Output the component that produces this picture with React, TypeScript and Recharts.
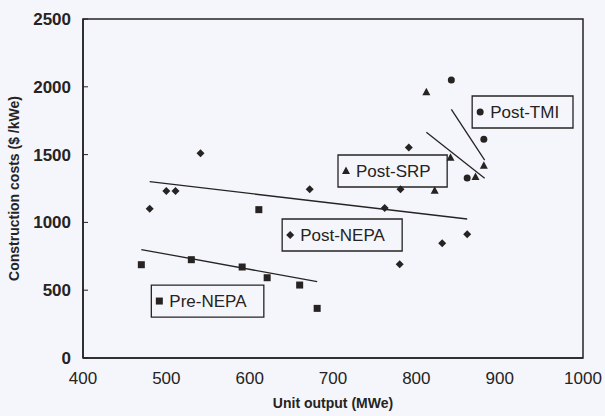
import {
  ScatterChart,
  Scatter,
  XAxis,
  YAxis,
  ReferenceLine,
  ReferenceArea,
} from 'recharts';

// unit output (MWe) vs construction cost ($/kWe)
const preNepa = [
  { x: 470, y: 688 },
  { x: 530, y: 725 },
  { x: 591, y: 671 },
  { x: 611, y: 1094 },
  { x: 621, y: 592 },
  { x: 660, y: 538 },
  { x: 681, y: 366 },
];

const postNepa = [
  { x: 480, y: 1101 },
  { x: 500, y: 1231 },
  { x: 511, y: 1231 },
  { x: 541, y: 1510 },
  { x: 672, y: 1244 },
  { x: 762, y: 1106 },
  { x: 780, y: 691 },
  { x: 781, y: 1244 },
  { x: 791, y: 1553 },
  { x: 831, y: 846 },
  { x: 861, y: 912 },
];

const postSrp = [
  { x: 812, y: 1959 },
  { x: 822, y: 1234 },
  { x: 841, y: 1477 },
  { x: 871, y: 1335 },
  { x: 881, y: 1418 },
];

const postTmi = [
  { x: 842, y: 2050 },
  { x: 861, y: 1327 },
  { x: 881, y: 1613 },
];

// fitted trend segments (end points)
const preNepaFit = [{ x: 470, y: 800 }, { x: 681, y: 563 }];
const postNepaFit = [{ x: 480, y: 1300 }, { x: 861, y: 1025 }];
const postSrpFit = [{ x: 812, y: 1664 }, { x: 882, y: 1325 }];
const postTmiFit = [{ x: 842, y: 1834 }, { x: 882, y: 1460 }];

const xTicks = [400, 500, 600, 700, 800, 900, 1000];
const yTicks = [0, 500, 1000, 1500, 2000, 2500];

const BG = '#f4f6fb';
const INK = '#262322';
const FONT = '"Liberation Sans", Arial, sans-serif';

type Kind = 'square' | 'diamond' | 'triangle' | 'circle';

function Marker({ kind, cx, cy }: { kind: Kind; cx: number; cy: number }) {
  if (kind === 'square') return <rect x={cx - 3.5} y={cy - 3.5} width={7} height={7} fill={INK} />;
  if (kind === 'diamond')
    return <polygon points={`${cx},${cy - 4} ${cx + 4},${cy} ${cx},${cy + 4} ${cx - 4},${cy}`} fill={INK} />;
  if (kind === 'triangle')
    return <polygon points={`${cx},${cy - 4.5} ${cx + 4},${cy + 3} ${cx - 4},${cy + 3}`} fill={INK} />;
  return <circle cx={cx} cy={cy} r={3.5} fill={INK} />;
}

const shapeOf = (kind: Kind) => (p: any) => <Marker kind={kind} cx={p.cx} cy={p.cy} />;

// annotation boxes, in data units
const boxes: { name: string; kind: Kind; x1: number; x2: number; y1: number; y2: number }[] = [
  { name: 'Pre-NEPA', kind: 'square', x1: 482, x2: 617, y1: 302, y2: 538 },
  { name: 'Post-NEPA', kind: 'diamond', x1: 639, x2: 783, y1: 789, y2: 1025 },
  { name: 'Post-SRP', kind: 'triangle', x1: 706, x2: 837, y1: 1261, y2: 1497 },
  { name: 'Post-TMI', kind: 'circle', x1: 867, x2: 988, y1: 1696, y2: 1932 },
];

function BoxLabel({ viewBox, name, kind }: any) {
  const { x, y, height } = viewBox;
  const cy = y + height / 2;
  return (
    <g>
      <Marker kind={kind} cx={x + 8} cy={cy} />
      <text x={x + 18} y={cy + 6} fontSize={17} fontFamily={FONT} fill={INK}>
        {name}
      </text>
    </g>
  );
}

function YTick({ x, y, payload }: any) {
  return (
    <g>
      <line x1={x + 12} x2={x + 17} y1={y} y2={y} stroke={INK} />
      <text x={x} y={y + 6} textAnchor="end" fontSize={17} fontWeight="bold" fontFamily={FONT} fill={INK}>
        {payload.value}
      </text>
    </g>
  );
}

export default function App() {
  return (
    <div style={{ position: 'absolute', left: 0, top: 0, width: 605, height: 416, background: BG, overflow: 'hidden' }}>
      <ScatterChart
        width={605}
        height={416}
        margin={{ top: 19, right: 22, left: 0, bottom: 0 }}
        style={{ overflow: 'visible' }}
      >
        <XAxis
          type="number"
          dataKey="x"
          domain={[400, 1000]}
          ticks={xTicks}
          tickLine={false}
          tickSize={0}
          tickMargin={14}
          height={58}
          axisLine={{ stroke: INK, strokeWidth: 1.5 }}
          tick={{ fontSize: 17, fill: INK, fontFamily: FONT }}
          label={{
            content: ({ viewBox }: any) => (
              <text
                x={viewBox.x + viewBox.width / 2}
                y={viewBox.y + 50}
                textAnchor="middle"
                fontSize={14}
                fontWeight="bold"
                fontFamily={FONT}
                fill={INK}
              >
                Unit output (MWe)
              </text>
            ),
          }}
        />
        <YAxis
          type="number"
          dataKey="y"
          domain={[0, 2500]}
          ticks={yTicks}
          tickLine={false}
          tickSize={0}
          tickMargin={12}
          width={83}
          axisLine={{ stroke: INK, strokeWidth: 1.5 }}
          tick={<YTick />}
          label={{
            content: ({ viewBox }: any) => {
              const cx = viewBox.x + 14;
              const cy = viewBox.y + viewBox.height / 2;
              return (
                <text
                  x={cx}
                  y={cy}
                  textAnchor="middle"
                  dominantBaseline="central"
                  transform={`rotate(-90 ${cx} ${cy})`}
                  fontSize={14}
                  fontWeight="bold"
                  fontFamily={FONT}
                  fill={INK}
                >
                  Construction costs ($ /kWe)
                </text>
              );
            },
          }}
        />
        <ReferenceArea x1={400} x2={1000} y1={0} y2={2500} fill="none" stroke={INK} strokeWidth={1.5} />
        <ReferenceLine segment={preNepaFit} stroke={INK} strokeWidth={1.3} />
        <ReferenceLine segment={postNepaFit} stroke={INK} strokeWidth={1.3} />
        <ReferenceLine segment={postSrpFit} stroke={INK} strokeWidth={1.3} />
        <ReferenceLine segment={postTmiFit} stroke={INK} strokeWidth={1.3} />
        {boxes.map((b) => (
          <ReferenceArea
            key={b.name}
            x1={b.x1}
            x2={b.x2}
            y1={b.y1}
            y2={b.y2}
            fill={BG}
            fillOpacity={1}
            stroke={INK}
            strokeWidth={1.3}
            label={<BoxLabel name={b.name} kind={b.kind} />}
          />
        ))}
        <Scatter name="Pre-NEPA" data={preNepa} shape={shapeOf('square')} isAnimationActive={false} />
        <Scatter name="Post-NEPA" data={postNepa} shape={shapeOf('diamond')} isAnimationActive={false} />
        <Scatter name="Post-SRP" data={postSrp} shape={shapeOf('triangle')} isAnimationActive={false} />
        <Scatter name="Post-TMI" data={postTmi} shape={shapeOf('circle')} isAnimationActive={false} />
      </ScatterChart>
    </div>
  );
}
